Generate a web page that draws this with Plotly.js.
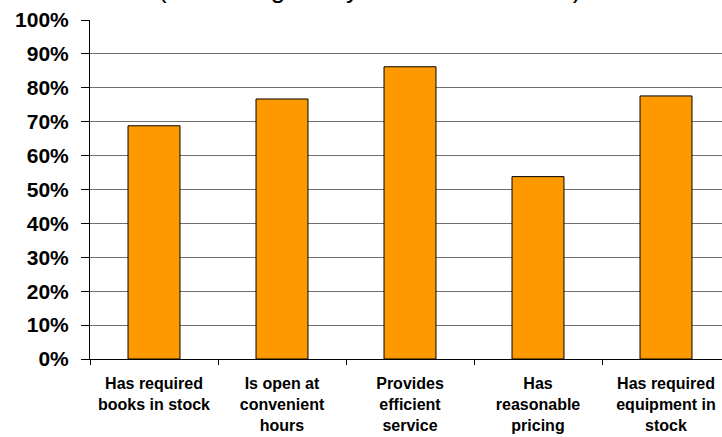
<!DOCTYPE html>
<html>
<head>
<meta charset="utf-8">
<script src="https://cdn.plot.ly/plotly-3.0.1.min.js"></script>
<style>html,body{margin:0;padding:0;background:#fff;}#chart{width:722px;height:437px;}</style>
</head>
<body>
<div id="chart"></div>
<script>
const categories = [
  "Has required<br>books in stock",
  "Is open at<br>convenient<br>hours",
  "Provides<br>efficient<br>service",
  "Has<br>reasonable<br>pricing",
  "Has required<br>equipment in<br>stock"
];
const satisfiedPct = [68.8, 76.7, 86.2, 53.8, 77.6];
const yTickValues = [0, 10, 20, 30, 40, 50, 60, 70, 80, 90, 100];
const yTickLabels = ["0%", "10%", "20%", "30%", "40%", "50%", "60%", "70%", "80%", "90%", "100%"];
const titleText = "(Percentage Very Satisfied/Satisfied)";

const trace = {
  type: "bar",
  x: categories,
  y: satisfiedPct,
  width: 0.406,
  marker: { color: "#FF9900", line: { color: "#000000", width: 1 } },
  hoverinfo: "none"
};

const layout = {
  width: 722,
  height: 437,
  margin: { l: 90, r: 0, t: 20, b: 78, pad: 0 },
  paper_bgcolor: "#ffffff",
  plot_bgcolor: "#ffffff",
  showlegend: false,
  font: { family: "Liberation Sans, Arial, sans-serif", color: "#000" },
  xaxis: {
    type: "category",
    range: [-0.5, 4.4375],
    showline: true,
    linecolor: "#000",
    linewidth: 1,
    ticks: "outside",
    tickson: "boundaries",
    ticklen: 5,
    tickcolor: "#000",
    showgrid: false,
    ticklabelstandoff: 10,
    tickfont: { family: "Liberation Sans, Arial, sans-serif", size: 16, color: "#000", weight: "bold" },
    fixedrange: true
  },
  yaxis: {
    range: [0, 100],
    tickvals: yTickValues,
    ticktext: yTickLabels,
    showline: true,
    linecolor: "#000",
    linewidth: 1,
    ticks: "outside",
    ticklen: 8,
    tickcolor: "#000",
    showgrid: true,
    gridcolor: "#707070",
    gridwidth: 1,
    zeroline: false,
    ticklabelstandoff: 8,
    tickfont: { family: "Liberation Sans, Arial, sans-serif", size: 21, color: "#000", weight: "bold" },
    fixedrange: true
  },
  annotations: [{
    text: titleText,
    xref: "paper", yref: "paper",
    x: 0.443, y: 1,
    yshift: 14,
    xanchor: "center", yanchor: "bottom",
    showarrow: false,
    font: { family: "Liberation Sans, Arial, sans-serif", size: 26, color: "#000" }
  }]
};

Plotly.newPlot("chart", [trace], layout, { displayModeBar: false, staticPlot: true });
</script>
</body>
</html>
